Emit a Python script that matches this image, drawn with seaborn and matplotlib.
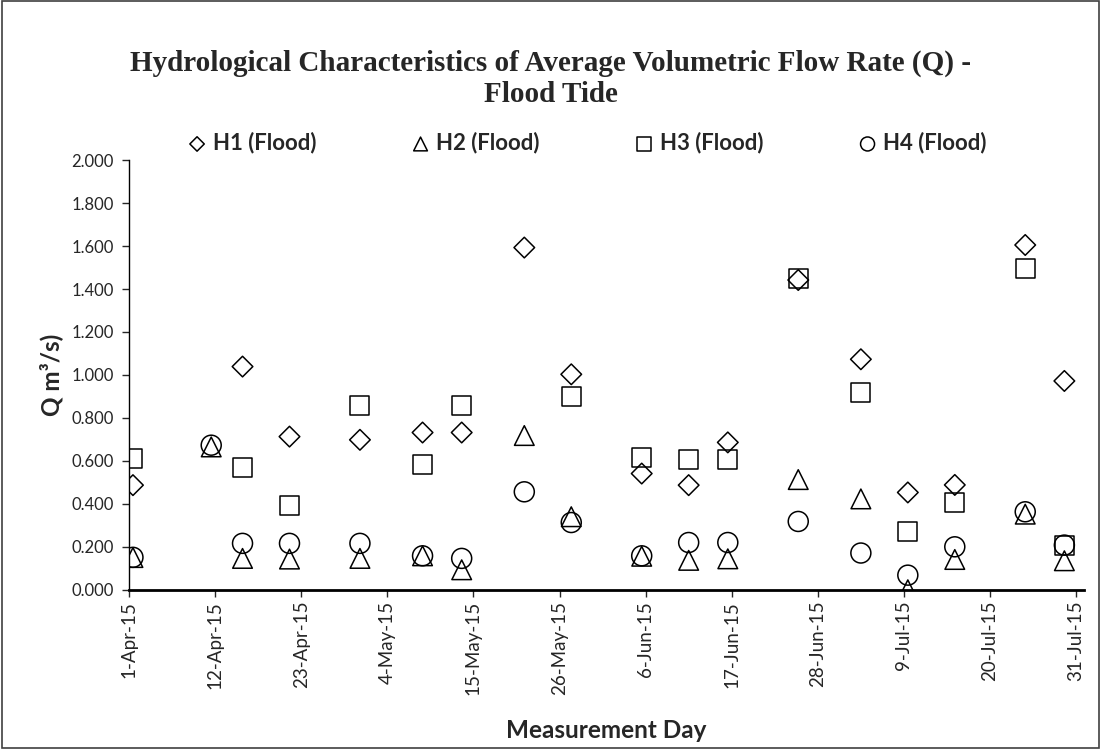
import numpy as np
import pandas as pd
import seaborn as sns
import matplotlib.pyplot as plt
import matplotlib.dates as mdates
from matplotlib.patches import Rectangle

# Measurement days and average flow rate Q (m3/s) per station, flood tide
days = ["2015-04-01", "2015-04-11", "2015-04-15", "2015-04-21", "2015-04-30",
        "2015-05-08", "2015-05-13", "2015-05-21", "2015-05-27", "2015-06-05",
        "2015-06-11", "2015-06-16", "2015-06-25", "2015-07-03", "2015-07-09",
        "2015-07-15", "2015-07-24", "2015-07-29"]
h1 = [0.487, np.nan, 1.039, 0.713, 0.698, 0.732, 0.732, 1.593, 1.003, 0.541,
      0.487, 0.686, 1.442, 1.073, 0.453, 0.488, 1.605, 0.972]
h2 = [0.150, 0.665, 0.146, 0.143, 0.146, 0.158, 0.093, 0.718, 0.340, 0.156,
      0.137, 0.144, 0.513, 0.423, 0.000, 0.141, 0.352, 0.135]
h3 = [0.613, np.nan, 0.569, 0.391, 0.856, 0.585, 0.856, np.nan, 0.899, 0.616,
      0.606, 0.606, 1.449, 0.916, 0.270, 0.405, 1.496, 0.205]
h4 = [0.151, 0.673, 0.216, 0.216, 0.216, 0.158, 0.146, 0.456, 0.313, 0.158,
      0.220, 0.220, 0.318, 0.171, 0.068, 0.200, 0.363, 0.208]

labels = ["H1 (Flood)", "H2 (Flood)", "H3 (Flood)", "H4 (Flood)"]
markers = ["D", "^", "s", "o"]
sizes = [110, 200, 187, 207]


def main():
    # Excel date axis puts each point in the middle of its day
    dates = pd.to_datetime(days) + pd.Timedelta(hours=12)
    df = pd.DataFrame({"Day": dates, labels[0]: h1, labels[1]: h2,
                       labels[2]: h3, labels[3]: h4})

    sns.set_style("white")
    plt.rcParams["font.family"] = ["Lato", "DejaVu Sans"]

    fig = plt.figure(figsize=(11.01, 7.49), dpi=100)
    ax = fig.add_axes([0.1172, 0.2126, 0.8673, 0.5736])

    for name, mk, sz in zip(labels, markers, sizes):
        sns.scatterplot(x="Day", y=name, data=df, ax=ax, marker=mk, s=sz,
                        color="black", facecolor="none", edgecolor="black",
                        linewidth=1.1, label=name)

    # x axis: a tick every 11 days from 1-Apr-15
    ticks = pd.date_range("2015-04-01", "2015-07-31", freq="11D")
    ax.set_xlim(pd.Timestamp("2015-04-01"), pd.Timestamp("2015-08-01"))
    ax.set_xticks(ticks)
    ax.xaxis.set_major_formatter(mdates.DateFormatter("%-d-%b-%y"))
    ax.tick_params(axis="x", labelrotation=90, labelsize=13.5, length=5,
                   width=1, direction="out", bottom=True, pad=3)

    ax.set_ylim(0, 2)
    ax.set_yticks(np.arange(0, 2.01, 0.2))
    ax.yaxis.set_major_formatter(plt.FormatStrFormatter("%.3f"))
    ax.tick_params(axis="y", labelsize=12, length=5, width=1,
                   direction="out", left=True, pad=6)

    for side in ["top", "right"]:
        ax.spines[side].set_visible(False)
    ax.spines["left"].set_color("black")
    ax.spines["left"].set_linewidth(1)
    ax.spines["bottom"].set_color("black")
    ax.spines["bottom"].set_linewidth(2)

    ax.set_xlabel("Measurement Day", fontsize=17.5, fontweight="bold",
                  labelpad=17)
    ax.set_ylabel("Q m\u00b3/s)", fontsize=17.5, fontweight="bold",
                  labelpad=6)

    ax.legend(loc="center", bbox_to_anchor=(0.48, 1.04), ncol=4,
              frameon=False, markerscale=0.7, handlelength=0.8,
              handletextpad=0.3, columnspacing=4.3,
              prop={"weight": "bold", "size": 16})

    fig.text(0.5, 0.8945, "Hydrological Characteristics of Average Volumetric "
             "Flow Rate (Q) -\nFlood Tide", ha="center", va="center",
             fontsize=21, fontweight="bold", family="Liberation Serif",
             linespacing=1.2)

    # chart area border
    fig.patches.append(Rectangle((0.002, 0.002), 0.996, 0.996,
                                 transform=fig.transFigure, fill=False,
                                 edgecolor="#404040", linewidth=1.2))

    plt.savefig("out.png", dpi=100)


if __name__ == "__main__":
    main()
